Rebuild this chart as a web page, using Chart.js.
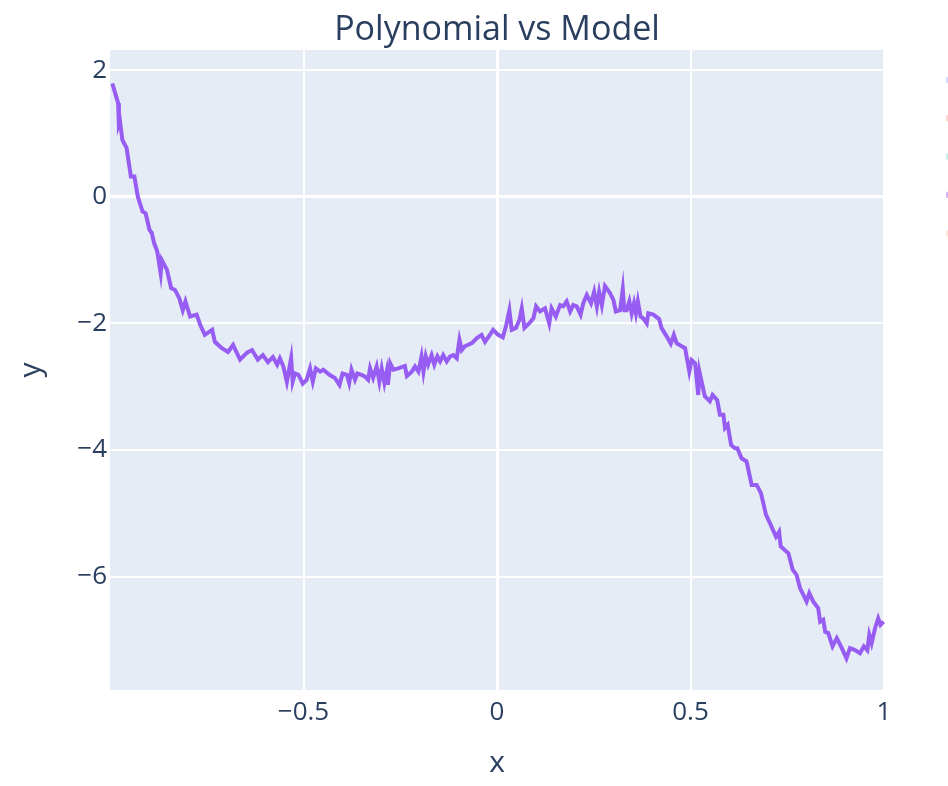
<!DOCTYPE html>
<html>
<head>
<meta charset="utf-8">
<title>Polynomial vs Model</title>
<script src="https://cdn.jsdelivr.net/npm/chart.js@4.4.0/dist/chart.umd.min.js"></script>
<style>
  html, body { margin: 0; padding: 0; background: #fff; overflow: hidden; }
  #wrap { width: 948px; height: 786px; position: relative; }
</style>
</head>
<body>
<div id="wrap"><canvas id="chart"></canvas></div>
<script>
const titleText = 'Polynomial vs Model';
const seriesName = 'Model';

const xValues = [
  -0.994, -0.979, -0.977, -0.974, -0.968, -0.957, -0.946, -0.937, -0.928, -0.916,
  -0.908, -0.898, -0.892, -0.886, -0.878, -0.869, -0.866, -0.853, -0.842, -0.832,
  -0.821, -0.812, -0.805, -0.793, -0.776, -0.767, -0.755, -0.736, -0.729, -0.711,
  -0.695, -0.682, -0.664, -0.646, -0.633, -0.618, -0.605, -0.592, -0.579, -0.568,
  -0.561, -0.552, -0.543, -0.532, -0.528, -0.522, -0.513, -0.502, -0.492, -0.483,
  -0.476, -0.468, -0.457, -0.449, -0.433, -0.419, -0.407, -0.399, -0.388, -0.382,
  -0.376, -0.367, -0.361, -0.350, -0.341, -0.333, -0.328, -0.320, -0.311, -0.304,
  -0.298, -0.291, -0.285, -0.282, -0.276, -0.268, -0.255, -0.238, -0.233, -0.220,
  -0.212, -0.203, -0.195, -0.190, -0.184, -0.178, -0.169, -0.162, -0.154, -0.147,
  -0.139, -0.130, -0.121, -0.113, -0.104, -0.097, -0.091, -0.083, -0.065, -0.052,
  -0.040, -0.031, -0.022, -0.010, 0.003, 0.015, 0.023, 0.032, 0.038, 0.049,
  0.058, 0.064, 0.071, 0.083, 0.094, 0.101, 0.111, 0.124, 0.135, 0.141,
  0.152, 0.163, 0.171, 0.180, 0.189, 0.197, 0.206, 0.216, 0.223, 0.232,
  0.243, 0.251, 0.258, 0.264, 0.271, 0.279, 0.292, 0.301, 0.307, 0.318,
  0.325, 0.329, 0.335, 0.342, 0.348, 0.354, 0.359, 0.364, 0.371, 0.378,
  0.387, 0.391, 0.404, 0.419, 0.425, 0.438, 0.449, 0.457, 0.464, 0.477,
  0.486, 0.497, 0.503, 0.512, 0.520, 0.523, 0.537, 0.550, 0.557, 0.569,
  0.576, 0.585, 0.589, 0.596, 0.605, 0.615, 0.621, 0.632, 0.645, 0.658,
  0.671, 0.682, 0.695, 0.705, 0.721, 0.729, 0.733, 0.747, 0.753, 0.764,
  0.774, 0.783, 0.800, 0.807, 0.817, 0.830, 0.835, 0.843, 0.848, 0.856,
  0.867, 0.878, 0.891, 0.903, 0.912, 0.925, 0.938, 0.948, 0.957, 0.962,
  0.968, 0.977, 0.985, 0.991, 0.999
];

const yValues = [
  1.79, 1.48, 1.14, 1.19, 0.90, 0.77, 0.32, 0.32, 0.00, -0.23,
  -0.26, -0.52, -0.57, -0.73, -0.86, -1.21, -1.00, -1.15, -1.44, -1.47,
  -1.60, -1.79, -1.65, -1.89, -1.86, -2.02, -2.18, -2.10, -2.29, -2.39,
  -2.45, -2.34, -2.57, -2.46, -2.42, -2.57, -2.50, -2.61, -2.53, -2.65,
  -2.55, -2.68, -2.92, -2.55, -2.92, -2.79, -2.81, -2.95, -2.89, -2.71,
  -2.92, -2.71, -2.76, -2.73, -2.81, -2.86, -2.97, -2.79, -2.81, -2.94,
  -2.73, -2.89, -2.79, -2.81, -2.84, -2.89, -2.71, -2.86, -2.68, -2.92,
  -2.71, -2.94, -2.76, -2.97, -2.63, -2.73, -2.71, -2.67, -2.83, -2.76,
  -2.68, -2.76, -2.52, -2.76, -2.52, -2.65, -2.50, -2.65, -2.52, -2.60,
  -2.50, -2.60, -2.52, -2.50, -2.55, -2.26, -2.42, -2.36, -2.31, -2.23,
  -2.18, -2.29, -2.21, -2.10, -2.18, -2.22, -2.05, -1.79, -2.10, -2.07,
  -1.94, -1.76, -2.07, -2.00, -1.92, -1.73, -1.81, -1.76, -2.00, -1.76,
  -1.89, -1.71, -1.73, -1.65, -1.81, -1.71, -1.73, -1.86, -1.68, -1.55,
  -1.68, -1.50, -1.73, -1.50, -1.71, -1.41, -1.52, -1.63, -1.81, -1.79,
  -1.46, -1.79, -1.79, -1.65, -1.84, -1.68, -1.84, -1.65, -1.89, -1.92,
  -2.00, -1.84, -1.86, -1.93, -2.07, -2.20, -2.32, -2.18, -2.31, -2.36,
  -2.39, -2.76, -2.58, -2.63, -3.13, -2.76, -3.15, -3.23, -3.13, -3.21,
  -3.44, -3.44, -3.65, -3.60, -3.92, -3.97, -3.97, -4.13, -4.18, -4.55,
  -4.55, -4.68, -5.02, -5.15, -5.37, -5.29, -5.52, -5.60, -5.63, -5.89,
  -5.97, -6.18, -6.39, -6.26, -6.39, -6.50, -6.71, -6.68, -6.87, -6.89,
  -7.10, -6.97, -7.13, -7.29, -7.13, -7.16, -7.21, -7.10, -7.16, -6.92,
  -7.05, -6.81, -6.66, -6.76, -6.71
];

const xTicks = [-0.5, 0, 0.5, 1];
const yTicks = [2, 0, -2, -4, -6];
const legendColors = ['#636efa', '#ef553b', '#00cc96', '#ab63fa', '#ffa15a'];

const textColor = '#2a3f5f';
const fontFamily = '"Open Sans", "Noto Sans", sans-serif';

const fmt = v => (v < 0 ? '\u2212' + Math.abs(v) : String(v));

// plot background, title centred over the plot and the cut-off legend swatches
const plotDecor = {
  id: 'plotDecor',
  beforeDraw(chart) {
    const { ctx, chartArea: a } = chart;
    ctx.save();
    ctx.fillStyle = '#e5ecf6';
    ctx.fillRect(a.left, a.top, a.right - a.left, a.bottom - a.top);
    ctx.restore();
  },
  afterDraw(chart) {
    const { ctx, chartArea: a } = chart;
    ctx.save();
    ctx.fillStyle = textColor;
    ctx.font = '34px ' + fontFamily;
    ctx.textAlign = 'center';
    ctx.textBaseline = 'alphabetic';
    ctx.fillText(titleText, (a.left + a.right) / 2, 40);

    legendColors.forEach((c, i) => {
      ctx.globalAlpha = i === 3 ? 0.45 : 0.25;
      ctx.fillStyle = c;
      ctx.fillRect(chart.width - 2, 77 + i * 38.3, 2, 6);
    });
    ctx.restore();
  }
};

const points = xValues.map((x, i) => ({ x: x, y: yValues[i] }));

new Chart(document.getElementById('chart'), {
  type: 'line',
  data: {
    datasets: [{
      label: seriesName,
      data: points,
      borderColor: '#975cf2',
      borderWidth: 4,
      pointRadius: 0,
      tension: 0,
      fill: false,
      clip: 4
    }]
  },
  options: {
    responsive: true,
    maintainAspectRatio: false,
    animation: false,
    layout: { padding: { top: 50, right: 64, left: 0, bottom: 0 } },
    plugins: {
      legend: { display: false },
      tooltip: { enabled: false },
      title: { display: false }
    },
    scales: {
      x: {
        type: 'linear',
        min: -1,
        max: 1,
        afterBuildTicks: s => { s.ticks = xTicks.map(v => ({ value: v })); },
        afterFit: s => { s.height = 96; },
        grid: {
          color: '#ffffff',
          lineWidth: c => (c.tick && c.tick.value === 0 ? 3 : 2),
          drawTicks: false
        },
        border: { display: false },
        ticks: {
          padding: 7,
          color: textColor,
          font: { family: fontFamily, size: 26 },
          maxRotation: 0,
          callback: v => fmt(v)
        },
        title: {
          display: true,
          text: 'x',
          color: textColor,
          font: { family: fontFamily, size: 30 },
          padding: { top: 0, bottom: 5 }
        }
      },
      y: {
        type: 'linear',
        min: -7.79,
        max: 2.32,
        afterBuildTicks: s => { s.ticks = yTicks.map(v => ({ value: v })); },
        afterFit: s => { s.width = 110; },
        grid: {
          color: '#ffffff',
          lineWidth: c => (c.tick && c.tick.value === 0 ? 3 : 2),
          drawTicks: false
        },
        border: { display: false },
        ticks: {
          padding: 3,
          color: textColor,
          font: { family: fontFamily, size: 26 },
          callback: v => fmt(v)
        },
        title: {
          display: true,
          text: 'y',
          color: textColor,
          font: { family: fontFamily, size: 30 },
          padding: { top: 13, bottom: 0 }
        }
      }
    }
  },
  plugins: [plotDecor]
});
</script>
</body>
</html>
